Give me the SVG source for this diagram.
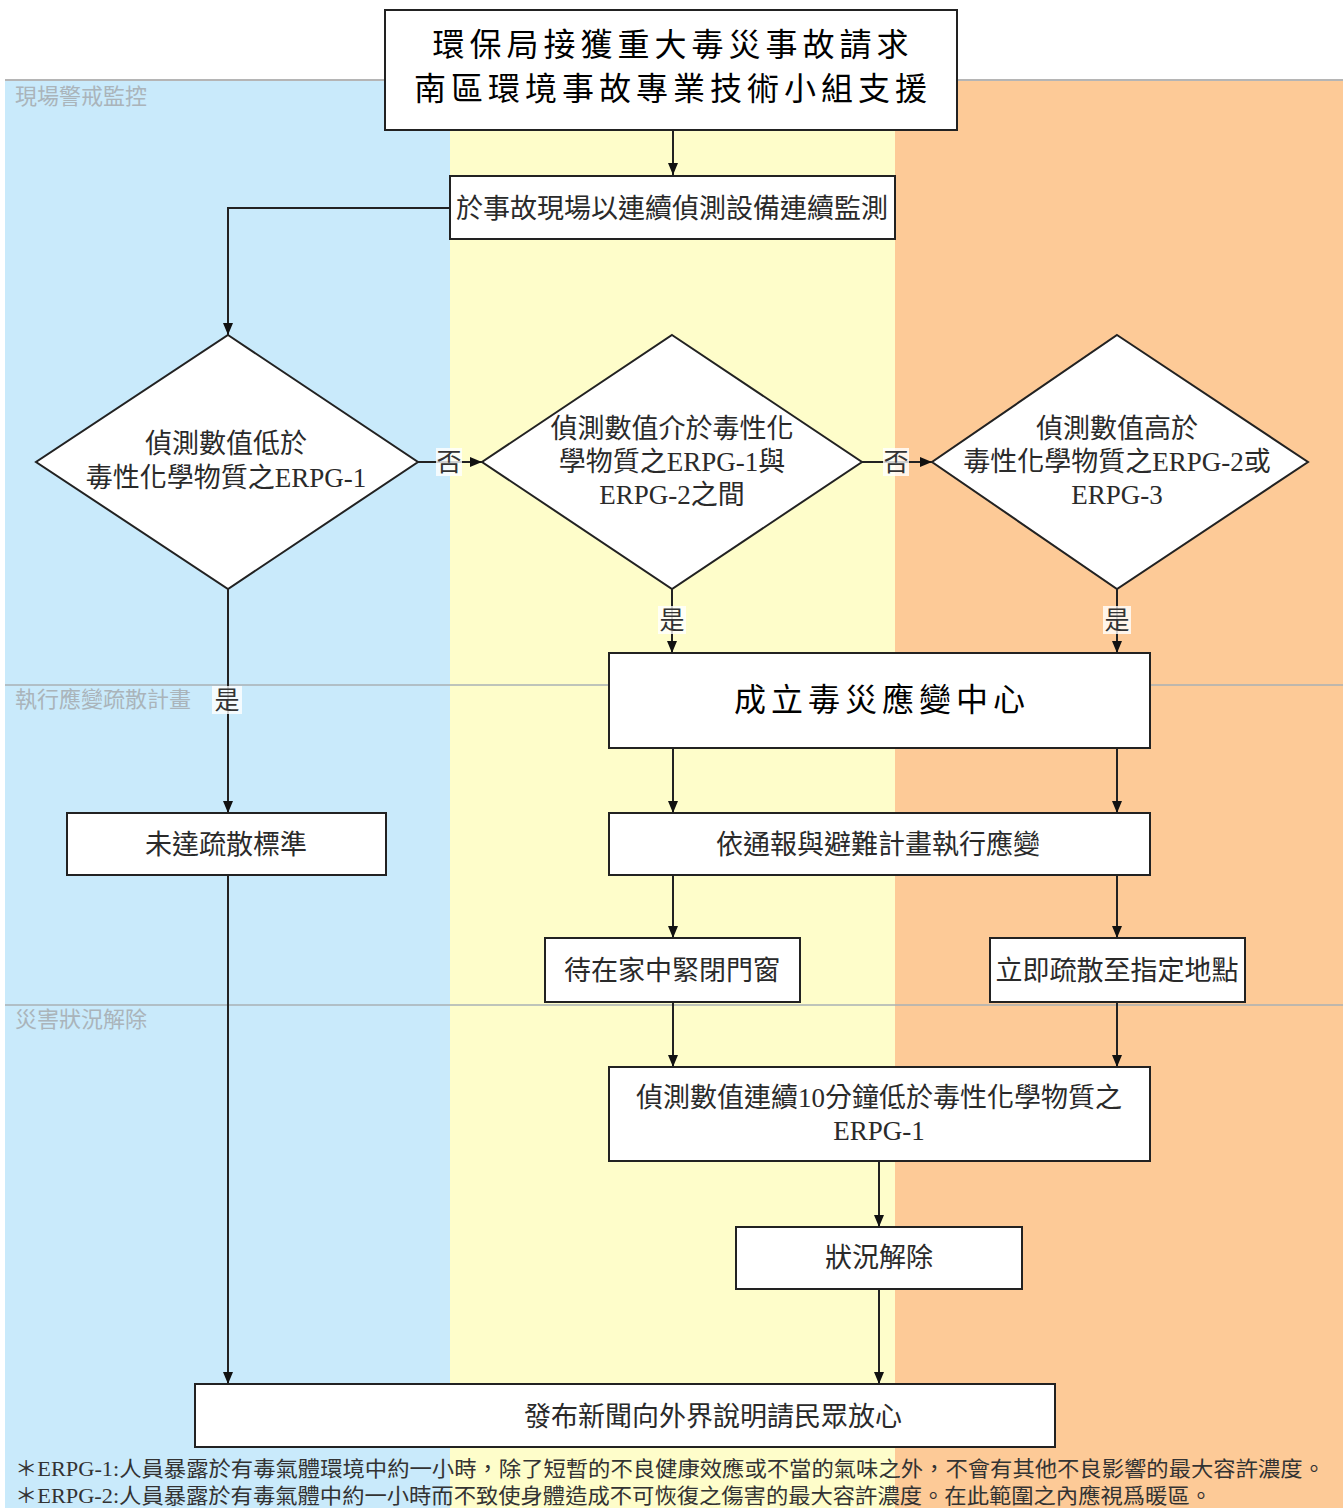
<svg xmlns="http://www.w3.org/2000/svg" width="1343" height="1508" viewBox="0 0 1343 1508">
<style>
.node{fill:#fff;stroke:#222;stroke-width:2}
.t{font-family:"Liberation Serif","Noto Sans CJK TC",serif;fill:#2a2a2a;text-anchor:middle}
.big{font-size:32px;letter-spacing:5px;fill:#000}
.m{font-size:27px}
.lane{font-family:"Liberation Serif","Noto Sans CJK TC",serif;font-size:22px;fill:#aab4ba}
.c{fill:none;stroke:#222;stroke-width:2}
.lbl{font-family:"Liberation Serif","Noto Sans CJK TC",serif;font-size:25px;fill:#333;text-anchor:middle}
.note{font-family:"Liberation Serif","Noto Sans CJK TC",serif;font-size:21px;fill:#333}
</style>
<defs>
<marker id="ah" markerWidth="12" markerHeight="12" viewBox="0 0 12 12" refX="12" refY="6" orient="auto" markerUnits="userSpaceOnUse">
<path d="M0,1 L12,6 L0,11 Z" fill="#111"/>
</marker>
</defs>
<rect width="1343" height="1508" fill="#fff"/>
<g id="lanes">
<rect x="5" y="80" width="445" height="1428" fill="#c9eafb"/>
<rect x="450" y="80" width="445" height="1428" fill="#fefdca"/>
<rect x="895" y="80" width="448" height="1428" fill="#fdca97"/>
<line x1="5" y1="80" x2="1343" y2="80" stroke="#b5b5b5" stroke-width="2"/>
<line x1="5" y1="685" x2="1343" y2="685" stroke="#a8b0b5" stroke-width="1.5"/>
<line x1="5" y1="1005" x2="1343" y2="1005" stroke="#a8b0b5" stroke-width="1.5"/>
<text class="lane" x="15" y="104">現場警戒監控</text>
<text class="lane" x="15" y="707">執行應變疏散計畫</text>
<text class="lane" x="15" y="1027">災害狀況解除</text>
</g>
<g id="connectors">
<path class="c" d="M673,130 V175" marker-end="url(#ah)"/>
<path class="c" d="M450,208 H228 V335" marker-end="url(#ah)"/>
<path class="c" d="M418,462 H482" marker-end="url(#ah)"/>
<path class="c" d="M862,462 H932" marker-end="url(#ah)"/>
<path class="c" d="M672,589 V653" marker-end="url(#ah)"/>
<path class="c" d="M1117,589 V653" marker-end="url(#ah)"/>
<path class="c" d="M228,589 V813" marker-end="url(#ah)"/>
<path class="c" d="M673,748 V813" marker-end="url(#ah)"/>
<path class="c" d="M1117,748 V813" marker-end="url(#ah)"/>
<path class="c" d="M673,875 V938" marker-end="url(#ah)"/>
<path class="c" d="M1117,875 V938" marker-end="url(#ah)"/>
<path class="c" d="M673,1002 V1067" marker-end="url(#ah)"/>
<path class="c" d="M1117,1002 V1067" marker-end="url(#ah)"/>
<path class="c" d="M879,1161 V1227" marker-end="url(#ah)"/>
<path class="c" d="M879,1289 V1384" marker-end="url(#ah)"/>
<path class="c" d="M228,875 V1384" marker-end="url(#ah)"/>
<rect x="436" y="448" width="26" height="28" fill="#fff" opacity="0.8"/>
<text class="lbl" x="449" y="471">否</text>
<rect x="883" y="448" width="26" height="28" fill="#fff" opacity="0.8"/>
<text class="lbl" x="896" y="471">否</text>
<rect x="658" y="606" width="28" height="28" fill="#fff" opacity="0.8"/>
<text class="lbl" x="672" y="629">是</text>
<rect x="1103" y="606" width="28" height="28" fill="#fff" opacity="0.8"/>
<text class="lbl" x="1117" y="629">是</text>
<rect x="212" y="686" width="30" height="28" fill="#fff" opacity="0.8"/>
<text class="lbl" x="227" y="709">是</text>
</g>
<g id="n-start">
<rect class="node" x="385" y="10" width="572" height="120"/>
<text class="t big" x="673" y="56">環保局接獲重大毒災事故請求</text>
<text class="t big" x="673" y="100">南區環境事故專業技術小組支援</text>
</g>
<g id="n-monitor">
<rect class="node" x="450" y="176" width="445" height="63"/>
<text class="t m" x="672" y="218">於事故現場以連續偵測設備連續監測</text>
</g>
<g id="n-d1">
<polygon class="node" points="228,335 418,462 228,589 36,462"/>
<text class="t m" x="226" y="453">偵測數值低於</text>
<text class="t m" x="226" y="487">毒性化學物質之ERPG-1</text>
</g>
<g id="n-d2">
<polygon class="node" points="672,335 862,462 672,589 482,462"/>
<text class="t m" x="672" y="438">偵測數值介於毒性化</text>
<text class="t m" x="672" y="471">學物質之ERPG-1與</text>
<text class="t m" x="672" y="504">ERPG-2之間</text>
</g>
<g id="n-d3">
<polygon class="node" points="1117,335 1308,462 1117,589 932,462"/>
<text class="t m" x="1117" y="438">偵測數值高於</text>
<text class="t m" x="1117" y="471">毒性化學物質之ERPG-2或</text>
<text class="t m" x="1117" y="504">ERPG-3</text>
</g>
<g id="n-center">
<rect class="node" x="609" y="653" width="541" height="95"/>
<text class="t big" x="882" y="711">成立毒災應變中心</text>
</g>
<g id="n-noevac">
<rect class="node" x="67" y="813" width="319" height="62"/>
<text class="t m" x="226" y="854">未達疏散標準</text>
</g>
<g id="n-respond">
<rect class="node" x="609" y="813" width="541" height="62"/>
<text class="t m" x="878" y="854">依通報與避難計畫執行應變</text>
</g>
<g id="n-stay">
<rect class="node" x="545" y="938" width="255" height="64"/>
<text class="t m" x="672" y="980">待在家中緊閉門窗</text>
</g>
<g id="n-evac">
<rect class="node" x="990" y="938" width="255" height="64"/>
<text class="t m" x="1117" y="980">立即疏散至指定地點</text>
</g>
<g id="n-below">
<rect class="node" x="609" y="1067" width="541" height="94"/>
<text class="t m" x="879" y="1107">偵測數值連續10分鐘低於毒性化學物質之</text>
<text class="t m" x="879" y="1140">ERPG-1</text>
</g>
<g id="n-clear">
<rect class="node" x="736" y="1227" width="286" height="62"/>
<text class="t m" x="879" y="1267">狀況解除</text>
</g>
<g id="n-news">
<rect class="node" x="195" y="1384" width="860" height="63"/>
<text class="t m" x="713" y="1426">發布新聞向外界說明請民眾放心</text>
</g>
<g id="notes">
<text class="note" x="15" y="1476" textLength="1310" lengthAdjust="spacingAndGlyphs">＊ERPG-1:人員暴露於有毒氣體環境中約一小時，除了短暫的不良健康效應或不當的氣味之外，不會有其他不良影響的最大容許濃度。</text>
<text class="note" x="15" y="1503" textLength="1197" lengthAdjust="spacingAndGlyphs">＊ERPG-2:人員暴露於有毒氣體中約一小時而不致使身體造成不可恢復之傷害的最大容許濃度。在此範圍之內應視爲暖區。</text>
</g>
</svg>
